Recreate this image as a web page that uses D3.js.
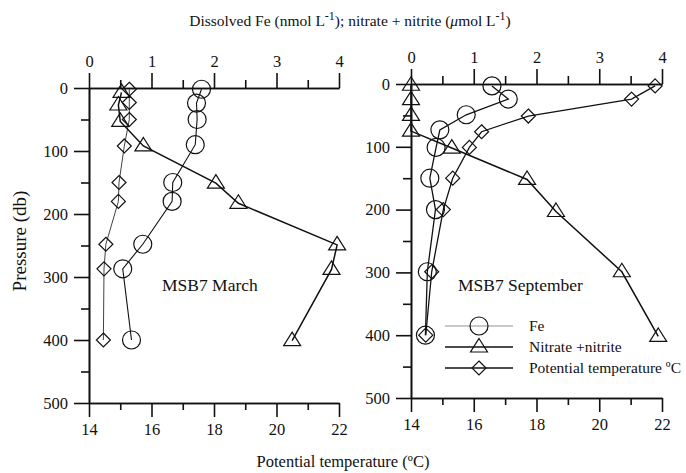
<!DOCTYPE html>
<html>
<head>
<meta charset="utf-8">
<script src="https://cdn.jsdelivr.net/npm/d3@7"></script>
<style>
  body { margin: 0; background: #fff; }
  svg { font-family: "Liberation Serif", "DejaVu Serif", serif; }
  .axis path, .axis line { stroke: #111; stroke-width: 1.6; }
  .axis text { font-size: 16.5px; fill: #111; font-family: "Liberation Serif", serif; }
</style>
</head>
<body>
<svg width="686" height="473"></svg>
<script>
// ---- data: March (MSB7) ----
var marchPressFe = [2, 24, 50, 90, 150, 180, 248, 287, 400];
var marchFe = [1.80, 1.72, 1.73, 1.70, 1.34, 1.33, 0.86, 0.54, 0.68];
var marchPressNO3 = [7, 27, 53, 92, 151, 183, 249, 288, 401];
var marchNO3 = [0.52, 0.47, 0.50, 0.87, 2.03, 2.39, 3.97, 3.88, 3.25];
var marchPressT = [2, 23, 50, 92, 150, 180, 248, 287, 400];
var marchTemp = [15.29, 15.29, 15.29, 15.13, 14.96, 14.94, 14.54, 14.48, 14.46];

// ---- data: September (MSB7) ----
var septPressFe = [3, 24, 49, 73, 101, 150, 200, 299, 400];
var septFe = [1.29, 1.55, 0.88, 0.46, 0.40, 0.30, 0.39, 0.26, 0.23];
var septPressNO3 = [2, 25, 50, 75, 102, 152, 203, 299, 402];
var septNO3 = [0, 0, 0, 0, 0.65, 1.85, 2.31, 3.36, 3.94];
var septPressT = [3, 24, 51, 76, 101, 150, 200, 299, 400];
var septTemp = [21.78, 21.03, 17.74, 16.25, 15.86, 15.33, 15.03, 14.66, 14.47];

var concTicks = [0, 1, 2, 3, 4];
var tempTicks = [14, 16, 18, 20, 22];
var pressTicks = [0, 100, 200, 300, 400, 500];
var legendLabels = ["Fe", "Nitrate +nitrite", "Potential temperature \u00baC"];

var svg = d3.select("svg");

function zip(xs, ys) {
  return xs.map(function(x, i) { return { v: x, p: ys[i] }; });
}

var triPath = "M0,-8.5L8.5,5L-8.5,5Z";
var diaPath = "M0,-7L7,0L0,7L-7,0Z";

function drawMarker(g, kind, x, y) {
  if (kind === "circle") {
    g.append("circle").attr("cx", x).attr("cy", y).attr("r", 9)
      .attr("fill", "none").attr("stroke", "#111").attr("stroke-width", 1.2);
  } else {
    g.append("path").attr("d", kind === "tri" ? triPath : diaPath)
      .attr("transform", "translate(" + x + "," + y + ")")
      .attr("fill", "none").attr("stroke", "#111").attr("stroke-width", 1.2);
  }
}

function panel(cfg) {
  var x = d3.scaleLinear().domain([0, 4]).range([cfg.x0, cfg.x1]);
  var t = d3.scaleLinear().domain([14, 22]).range([cfg.x0, cfg.x1]);
  var y = d3.scaleLinear().domain([0, 500]).range([cfg.y0, cfg.y1]);
  var g = svg.append("g");

  // minor ticks
  g.append("g").attr("class", "axis").attr("transform", "translate(0," + cfg.y0 + ")")
    .call(d3.axisTop(x).tickValues([0.5, 1.5, 2.5, 3.5]).tickSize(8).tickSizeOuter(0).tickFormat(""));
  g.append("g").attr("class", "axis").attr("transform", "translate(0," + cfg.y1 + ")")
    .call(d3.axisBottom(t).tickValues([15, 17, 19, 21]).tickSize(7).tickSizeOuter(0).tickFormat(""));
  g.append("g").attr("class", "axis").attr("transform", "translate(" + cfg.x0 + ",0)")
    .call(d3.axisLeft(y).tickValues([50, 150, 250, 350, 450]).tickSize(8).tickSizeOuter(0).tickFormat(""));

  // major ticks
  g.append("g").attr("class", "axis").attr("transform", "translate(0," + cfg.y0 + ")")
    .call(d3.axisTop(x).tickValues(concTicks).tickSize(15).tickSizeOuter(0).tickPadding(6).tickFormat(d3.format("d")));
  g.append("g").attr("class", "axis").attr("transform", "translate(0," + cfg.y1 + ")")
    .call(d3.axisBottom(t).tickValues(tempTicks).tickSize(14).tickSizeOuter(0).tickPadding(6).tickFormat(d3.format("d")));
  g.append("g").attr("class", "axis").attr("transform", "translate(" + cfg.x0 + ",0)")
    .call(d3.axisLeft(y).tickValues(pressTicks).tickSize(15).tickSizeOuter(0).tickPadding(6).tickFormat(d3.format("d")));

  var lineC = d3.line().x(function(d) { return x(d.v); }).y(function(d) { return y(d.p); });
  var lineT = d3.line().x(function(d) { return t(d.v); }).y(function(d) { return y(d.p); });

  var fe = zip(cfg.fe, cfg.pFe);
  var no3 = zip(cfg.no3, cfg.pNO3);
  var tmp = zip(cfg.temp, cfg.pT);

  g.append("path").datum(fe).attr("d", lineC).attr("fill", "none").attr("stroke", "#111").attr("stroke-width", cfg.wFe);
  g.append("path").datum(no3).attr("d", lineC).attr("fill", "none").attr("stroke", "#111").attr("stroke-width", 1.5);
  g.append("path").datum(tmp).attr("d", lineT).attr("fill", "none").attr("stroke", "#111").attr("stroke-width", cfg.wT);

  fe.forEach(function(d) { drawMarker(g, "circle", x(d.v), y(d.p)); });
  no3.forEach(function(d) { drawMarker(g, "tri", x(d.v), y(d.p)); });
  tmp.forEach(function(d) { drawMarker(g, "dia", t(d.v), y(d.p)); });

  g.append("text").attr("x", cfg.labelX).attr("y", cfg.labelY)
    .attr("font-size", "17.5px").attr("fill", "#111").text(cfg.label);
  return { g: g, x: x, y: y };
}

panel({
  x0: 89, x1: 339, y0: 88, y1: 403,
  fe: marchFe, pFe: marchPressFe, no3: marchNO3, pNO3: marchPressNO3,
  temp: marchTemp, pT: marchPressT, wFe: 1.1, wT: 0.8,
  label: "MSB7 March", labelX: 162, labelY: 291
});

panel({
  x0: 411, x1: 662, y0: 84, y1: 398,
  fe: septFe, pFe: septPressFe, no3: septNO3, pNO3: septPressNO3,
  temp: septTemp, pT: septPressT, wFe: 1.3, wT: 1.3,
  label: "MSB7 September", labelX: 458, labelY: 291
});

// legend
var leg = svg.append("g");
var legKinds = ["circle", "tri", "dia"];
var legWidths = [0.7, 1.6, 1.6];
legendLabels.forEach(function(lab, i) {
  var ly = 326 + i * 21;
  leg.append("line").attr("x1", 445).attr("x2", 513).attr("y1", ly).attr("y2", ly)
    .attr("stroke", i === 0 ? "#666" : "#111").attr("stroke-width", legWidths[i]);
  drawMarker(leg, legKinds[i], 479, ly);
  leg.append("text").attr("x", 529).attr("y", ly + 5).attr("font-size", "15.5px")
    .attr("fill", "#111").text(lab);
});

// titles
var topTitle = svg.append("text").attr("x", 350).attr("y", 26).attr("text-anchor", "middle")
  .attr("font-size", "15.5px").attr("fill", "#111");
topTitle.append("tspan").text("Dissolved Fe (nmol L");
topTitle.append("tspan").attr("dy", -6).attr("font-size", "12px").text("-1");
topTitle.append("tspan").attr("dy", 6).text("); nitrate + nitrite (");
topTitle.append("tspan").attr("font-style", "italic").text("\u03bc");
topTitle.append("tspan").text("mol L");
topTitle.append("tspan").attr("dy", -6).attr("font-size", "12px").text("-1");
topTitle.append("tspan").attr("dy", 6).text(")");

svg.append("text").attr("x", 343).attr("y", 467).attr("text-anchor", "middle")
  .attr("font-size", "16.5px").attr("fill", "#111").text("Potential temperature (\u00baC)");

svg.append("text").attr("transform", "translate(26,241) rotate(-90)").attr("text-anchor", "middle")
  .attr("font-size", "19px").attr("fill", "#111").text("Pressure (db)");
</script>
</body>
</html>
